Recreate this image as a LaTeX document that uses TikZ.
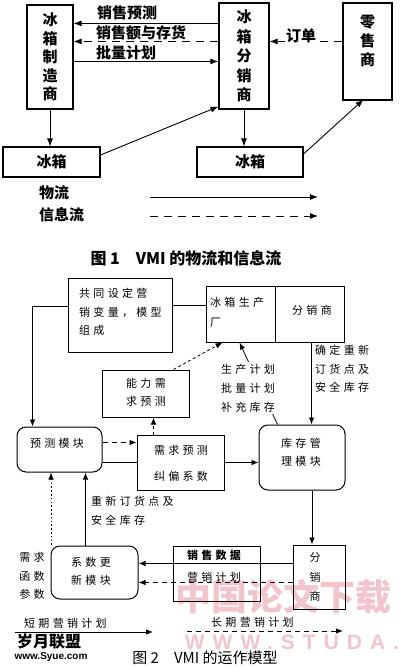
\documentclass[tikz,border=0pt]{standalone}
\usepackage{fontspec}
\setmainfont{Liberation Sans}
\newfontfamily\cjk{Noto Sans CJK SC}
\newfontfamily\cjks[LetterSpace=30]{Noto Sans CJK SC}
\newfontfamily\wmfont[LetterSpace=38]{Liberation Sans Bold}
\usetikzlibrary{arrows.meta,calc,backgrounds}
\definecolor{wm}{RGB}{242,196,204}
\tikzset{
  bA/.style={draw, line width=1.1pt, inner sep=0pt},
  bB/.style={draw, line width=1pt, inner sep=0pt},
  rB/.style={bB, rounded corners=9pt},
  tA/.style={font=\cjk\bfseries\fontsize{15}{18.5}\selectfont, inner sep=0pt, align=center},
  tB/.style={font=\cjks\fontsize{11}{18.5}\selectfont, inner sep=0pt, align=left},
  arA/.style={-{Latex[length=8pt,width=6pt]}, line width=0.9pt},
  arB/.style={-{Latex[length=7pt,width=5.5pt]}, line width=0.8pt},
  lnB/.style={line width=0.8pt},
  dashA/.style={dash pattern=on 8pt off 6pt},
  dashB/.style={dash pattern=on 5pt off 4pt},
  dashC/.style={dash pattern=on 3pt off 2.5pt},
  dotB/.style={dash pattern=on 1.6pt off 2.2pt}
}
\begin{document}
\begin{tikzpicture}[x=1pt,y=-1pt]
\useasboundingbox (0,0) rectangle (400,668);
% ---------- watermark ----------
\node[text=wm, font=\cjk\bfseries\fontsize{36}{36}\selectfont, inner sep=0pt] (wm1) at (283,597) {中国论文下载};
\node[text=wm, font=\wmfont\fontsize{21}{21}\selectfont, inner sep=0pt] (wm2) at (292,642) {WWW.STUDA.};
% ---------- Figure 1 ----------
\node[bA, tA, minimum width=46, minimum height=104] (mfr) at (50,57) {冰\\箱\\制\\造\\商};
\node[bA, tA, minimum width=50, minimum height=106, font=\cjk\bfseries\fontsize{15}{19.5}\selectfont] (dist) at (244,56) {冰\\箱\\分\\销\\商};
\node[bA, minimum width=49, minimum height=97] (ret) at (367.5,51.5) {};
\node[tA, font=\cjk\bfseries\fontsize{15}{19}\selectfont] (rett) at (367.5,41) {零\\售\\商};
\node[bA, tA, minimum width=97, minimum height=30] (lice) at (51.5,162) {冰箱};
\node[bA, tA, minimum width=106, minimum height=30] (rice) at (250,162) {冰箱};

\draw[arA] ($(dist.north west)+(0,21)$) -- ($(mfr.north east)+(0,19)$);
\draw[arA, dashA] ($(dist.north west)+(0,39)$) -- ($(mfr.north east)+(0,37)$);
\draw[arA] ($(mfr.north east)+(0,57)$) -- ($(dist.north west)+(0,59)$);
\draw[arA, dashA] ($(ret.north west)+(0,39)$) -- ($(dist.north east)+(0,39)$);
\node[tA, fill=white, inner sep=1pt] (od) at (301,36) {订单};
\node[tA, anchor=west] (l1) at (97,13) {销售预测};
\node[tA, anchor=west] (l2) at (96,33) {销售额与存货};
\node[tA, anchor=west] (l3) at (96,53) {批量计划};

\draw[arA] (mfr.south) -- (mfr.south |- lice.north);
\draw[arA] ($(lice.east)+(0,-7)$) -- ($(dist.south west)+(0,-3)$);
\draw[arA] (dist.south) -- (dist.south |- rice.north);
\draw[arA] ($(rice.east)+(0,-8)$) -- ($(ret.south)+(-4,-1)$);

\node[tA, anchor=west] (lg1) at (39,193) {物流};
\node[tA, anchor=west] (lg2) at (39,215) {信息流};
\coordinate (a1) at (150,197);
\coordinate (a2) at (318,197);
\coordinate (a3) at (150,216);
\coordinate (a4) at (318,216);
\draw[arA] (a1) -- (a2);
\draw[arA, dashA] (a3) -- (a4);

\node[font=\cjk\bfseries\fontsize{16}{18}\selectfont, inner sep=0pt] (cap1) at (186,258) {图 1\quad VMI 的物流和信息流};

% ---------- Figure 2 ----------
\node[bB, minimum width=104, minimum height=74] (gt) at (120,315) {};
\node[tB, anchor=west] (gtt) at (79,312) {共同设定营\\销变量，模型\\组成};
\node[bB, minimum width=69, minimum height=56] (fact) at (240.5,314) {};
\node[bB, minimum width=69, minimum height=56] (dist2) at (309.5,314) {};
\node[tB, anchor=west, font=\cjks\fontsize{11}{20}\selectfont] (factt) at (210,312) {冰箱生产\\厂};
\node[tB] (dist2t) at (312,310) {分销商};

\node[bB, minimum width=87, minimum height=47] (cap) at (145.5,393.5) {};
\node[tB, align=center] (capt) at (146,392.5) {能力需\\求预测};
\node[rB, minimum width=85, minimum height=45] (pred) at (59.5,449.5) {};
\node[tB] (predt) at (57,443) {预测模块};
\node[bB, fill=white, minimum width=87, minimum height=55] (dem) at (180.5,462.5) {};
\node[tB, align=center, font=\cjks\fontsize{11}{26}\selectfont] (demt) at (181,463) {需求预测\\纠偏系数};
\node[rB, minimum width=86, minimum height=65] (inv) at (302,457.5) {};
\node[tB, align=center, font=\cjks\fontsize{11}{18}\selectfont] (invt) at (301,452) {库存管\\理模块};

\node[bB, minimum width=52, minimum height=64] (dist3) at (319,577) {};
\node[tB, align=center, font=\cjks\fontsize{11}{19.5}\selectfont] (dist3t) at (315,577) {分\\销\\商};
\node[bB, minimum width=87, minimum height=55] (sales) at (216.5,573.5) {};
\node[tB, align=center, font=\cjks\fontsize{11}{22}\selectfont] (salest) at (214,566) {\bfseries 销售数据\\营销计划};
\node[rB, minimum width=87, minimum height=53] (coef) at (94.5,572.5) {};
\node[tB, align=center, font=\cjks\fontsize{11}{18}\selectfont] (coeft) at (91,571) {系数更\\新模块};

% connectors
\draw[lnB] ($(gt.east)+(0,-10)$) coordinate (g1) -- (g1 -| fact.west);
\draw[arB] ($(gt.west)+(0,-9)$) -| ($(pred.north west)+(16,0)$);
\draw[arB, dashC] ($(cap.north east)+(-16,0)$) -- ($(fact.south)+(-18,0)$);
\draw[arB] ($(inv.north west)+(19,0)$) -- ($(fact.south)+(-1,0)$);
\node[tB, fill=white, inner sep=1.5pt, font=\cjks\fontsize{11}{19}\selectfont] (pl) at (248,388) {生产计划\\批量计划\\补充库存};
\draw[arB] ($(dist2.south)+(2,0)$) coordinate (d1) -- (d1 |- inv.north);
\node[tB, anchor=west] (rl) at (315,369) {确定重新\\订货点及\\安全库存};

\draw[arB, dashB] ($(pred.north east)+(0,16)$) coordinate (p1) -- (p1 -| dem.west);
\draw[arB, dashC] ($(dem.north west)+(17,0)$) coordinate (d2) -- (d2 |- cap.south);
\begin{pgfonlayer}{background}
\draw[arB] ($(pred.north east)+(0,36)$) coordinate (p2) -- (p2 -| inv.west);
\end{pgfonlayer}
\draw[arB] ($(inv.south)+(10,0)$) coordinate (i1) -- (i1 |- dist3.north);
\draw[arB] ($(dist3.north west)+(0,19)$) coordinate (s1) -- (s1 -| coef.east);
\draw[arB, dashB] ($(dist3.north west)+(0,38)$) coordinate (s2) -- (s2 -| coef.east);
\draw[arB] ($(coef.north west)+(35,0)$) coordinate (c1) -- (c1 |- pred.south);
\node[tB, anchor=west] (ro) at (91,511) {重新订货点及\\安全库存};
\coordinate (q0) at (51,545);
\draw[arB, dotB] (q0) -- (q0 |- pred.south);
\node[tB, align=center] (xq) at (32,576) {需求\\函数\\参数};

\coordinate (b1) at (15,632);
\coordinate (b2) at (153,632);
\coordinate (b3) at (187,631);
\coordinate (b4) at (343,631);
\draw[arB] (b1) -- (b2);
\draw[arB, dashB] (b3) -- (b4);
\node[tB, anchor=west] (sp) at (24,623) {短期营销计划};
\node[tB, anchor=west] (lp) at (211,622) {长期营销计划};

\node[font=\cjk\bfseries\fontsize{16}{16}\selectfont, inner sep=0pt] (sy1) at (49,642) {岁月联盟};
\node[font=\bfseries\fontsize{10}{10}\selectfont, inner sep=0pt] (sy2) at (51,657) {www.Syue.com};
\node[font=\cjk\fontsize{15}{18}\selectfont, inner sep=0pt] (cap2) at (205,658) {图 2\quad VMI 的运作模型};
\end{tikzpicture}
\end{document}
